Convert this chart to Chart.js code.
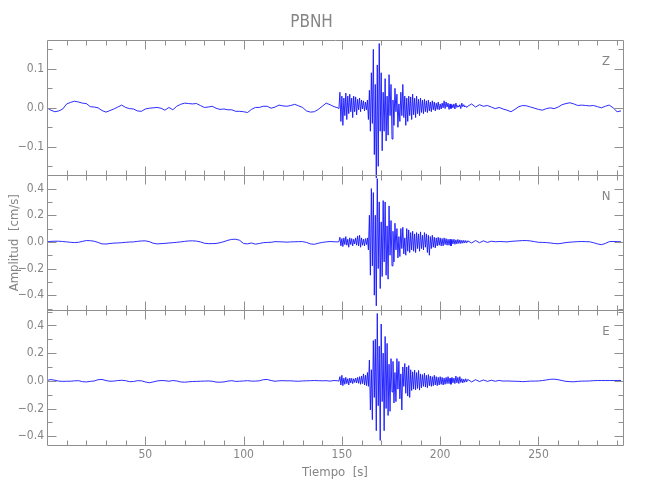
<!DOCTYPE html>
<html>
<head>
<meta charset="utf-8">
<script src="https://cdn.jsdelivr.net/npm/chart.js@4/dist/chart.umd.min.js"></script>
<style>
  html, body { margin: 0; padding: 0; background: #fff; }
  canvas { display: block; }
</style>
</head>
<body>
<canvas id="seismo" width="650" height="500"></canvas>
<script>
// PBNH velocity record, three components. Sampling: coarse before/after the event, fine during it.
const quietStart = 0, quietStep = 2;     // 0 .. 146 s
const burstStart = 148, burstStep = 0.5; // 148 .. 214 s
const codaStart = 216, codaStep = 2;     // 216 .. 292 s

const panelNames = ["Z", "N", "E"];
const xTicks = [50, 100, 150, 200, 250];
const zTicks = [-0.1, 0, 0.1];
const neTicks = [-0.4, -0.2, 0, 0.2, 0.4];

const zQuiet = [
  0.000, -0.006, -0.010, -0.008, -0.003, 0.010, 0.014, 0.017, 0.015, 0.012,
  0.011, 0.003, 0.002, 0.000, -0.007, -0.011, -0.007, -0.003, 0.002, 0.007,
  0.001, -0.002, -0.003, -0.008, -0.009, -0.003, -0.001, 0.000, 0.001, -0.001,
  -0.006, 0.001, -0.005, 0.004, 0.009, 0.012, 0.011, 0.010, 0.011, 0.006,
  0.001, 0.002, 0.004, -0.001, -0.004, -0.003, -0.005, -0.005, -0.009, -0.009,
  -0.010, -0.012, -0.004, 0.001, 0.001, 0.004, 0.004, -0.001, 0.002, 0.007,
  0.005, 0.004, 0.006, 0.009, 0.005, 0.001, -0.008, -0.011, -0.010, -0.004,
  0.004, 0.012, 0.008, 0.003
];
const zBurst = [
  0.000, -0.002, 0.040, -0.035, 0.030, -0.045, 0.025, -0.020, 0.038, -0.030,
  0.030, -0.015, 0.035, -0.010, 0.025, -0.025, 0.030, -0.010, 0.028, -0.018,
  0.022, -0.005, 0.025, -0.010, 0.020, -0.003, 0.018, -0.008, 0.015, -0.005,
  0.020, -0.030, 0.045, -0.060, 0.090, -0.040, 0.150, -0.120, 0.060, -0.180,
  0.110, -0.150, 0.165, -0.060, 0.090, -0.110, 0.040, -0.060, 0.075, -0.085,
  0.030, -0.070, 0.085, -0.020, 0.060, -0.080, 0.020, -0.045, 0.050, -0.010,
  0.035, -0.050, 0.010, -0.035, 0.040, -0.020, 0.060, -0.025, 0.030, -0.045,
  0.025, -0.035, 0.030, -0.020, 0.028, -0.030, 0.035, -0.018, 0.025, -0.025,
  0.030, -0.015, 0.022, -0.020, 0.025, -0.012, 0.020, -0.015, 0.022, -0.010,
  0.018, -0.012, 0.020, -0.008, 0.015, -0.010, 0.018, -0.005, 0.015, -0.008,
  0.012, -0.004, 0.015, -0.005, 0.010, -0.003, 0.012, 0.000, 0.018, -0.002,
  0.015, 0.002, 0.012, -0.004, 0.010, -0.002, 0.008, 0.000, 0.010, -0.003,
  0.012, 0.001, 0.006, 0.002, 0.008, -0.002, 0.012, 0.003, 0.008, 0.002,
  0.005, 0.001, 0.004
];
const zCoda = [
  0.010, 0.002, 0.008, 0.004, 0.006, 0.002, -0.002, 0.001, -0.003, -0.006,
  -0.010, -0.004, 0.003, 0.006, 0.005, 0.002, -0.001, -0.004, -0.006, -0.002,
  0.000, -0.002, 0.002, 0.008, 0.011, 0.013, 0.010, 0.006, 0.007, 0.006,
  0.005, 0.006, 0.003, 0.000, 0.004, 0.007, 0.000, -0.010, -0.008
];

const nQuiet = [
  0.000, 0.004, 0.005, 0.005, 0.003, 0.000, -0.003, -0.005, -0.003, 0.004,
  0.010, 0.009, 0.005, -0.004, -0.015, -0.016, -0.012, -0.009, -0.008, -0.006,
  -0.003, -0.001, 0.000, 0.004, 0.007, 0.008, 0.002, -0.010, -0.015, -0.013,
  -0.011, -0.008, -0.006, -0.003, 0.000, 0.004, 0.007, 0.008, 0.006, 0.000,
  -0.010, -0.013, -0.013, -0.012, -0.006, 0.002, 0.012, 0.019, 0.020, 0.012,
  -0.012, -0.015, -0.008, -0.017, -0.012, -0.006, -0.004, -0.003, 0.002, 0.001,
  0.000, -0.002, 0.000, 0.001, 0.002, 0.002, -0.004, -0.015, -0.018, -0.010,
  -0.004, 0.000, 0.003, 0.001
];
const nBurst = [
  0.000, 0.002, 0.035, -0.030, 0.025, -0.035, 0.030, -0.020, 0.040, -0.025,
  0.020, -0.040, 0.030, -0.020, 0.025, -0.030, 0.020, -0.015, 0.030, -0.025,
  0.045, -0.030, 0.050, -0.040, 0.030, -0.025, 0.020, -0.030, 0.025, -0.020,
  0.030, -0.060, 0.200, -0.250, 0.400, -0.180, 0.370, -0.400, 0.200, -0.480,
  0.475, -0.200, 0.300, -0.350, 0.150, -0.260, 0.310, -0.150, 0.300, -0.250,
  0.120, -0.280, 0.270, -0.100, 0.160, -0.180, 0.080, -0.150, 0.140, -0.060,
  0.100, -0.120, 0.040, -0.110, 0.100, -0.050, 0.110, -0.090, 0.030, -0.100,
  0.100, -0.070, 0.090, -0.080, 0.070, -0.060, 0.080, -0.070, 0.060, -0.080,
  0.070, -0.050, 0.060, -0.070, 0.075, -0.050, 0.050, -0.060, 0.070, -0.040,
  0.060, -0.080, 0.050, -0.100, 0.040, -0.050, 0.050, -0.040, 0.035, -0.045,
  0.030, -0.030, 0.035, -0.025, 0.030, -0.030, 0.025, -0.030, 0.030, -0.020,
  0.025, -0.025, 0.020, -0.025, 0.020, -0.030, 0.018, -0.015, 0.020, -0.018,
  0.015, -0.015, 0.018, -0.012, 0.015, -0.012, 0.012, -0.010, 0.012, -0.008,
  0.010, -0.008, 0.008
];
const nCoda = [
  -0.008, 0.010, -0.006, 0.008, -0.004, 0.005, 0.001, 0.003, 0.002, 0.000,
  0.004, 0.006, 0.008, 0.010, 0.010, 0.007, 0.002, -0.003, -0.004, -0.005,
  -0.008, -0.012, -0.014, -0.010, -0.005, -0.002, 0.000, 0.002, 0.003, 0.002,
  0.001, -0.006, -0.015, -0.021, -0.012, 0.002, 0.003, 0.002, 0.001
];

const eQuiet = [
  0.003, 0.009, 0.004, -0.002, -0.004, -0.003, -0.003, 0.000, 0.001, -0.006,
  -0.008, -0.004, -0.001, 0.008, 0.010, 0.002, -0.003, -0.002, 0.002, 0.004,
  0.001, -0.006, -0.005, 0.001, 0.000, -0.008, -0.014, -0.008, -0.001, 0.002,
  0.001, -0.003, 0.002, -0.001, -0.008, -0.010, -0.007, -0.005, -0.004, -0.003,
  -0.002, -0.001, -0.003, -0.009, -0.010, -0.008, -0.002, 0.001, -0.004, -0.003,
  -0.001, 0.001, -0.002, -0.002, 0.000, 0.008, 0.010, 0.002, -0.003, 0.000,
  0.001, 0.000, 0.000, -0.002, -0.003, -0.001, 0.000, 0.001, 0.002, 0.001,
  0.000, 0.001, -0.002, 0.002
];
const eBurst = [
  0.000, -0.002, 0.030, -0.030, 0.040, -0.035, 0.020, -0.025, 0.025, -0.020,
  0.015, -0.030, 0.020, -0.015, 0.018, -0.020, 0.015, -0.012, 0.020, -0.015,
  0.025, -0.018, 0.030, -0.025, 0.035, -0.020, 0.050, -0.030, 0.040, -0.035,
  0.060, -0.040, 0.150, -0.210, 0.080, -0.280, 0.290, -0.120, 0.300, -0.360,
  0.486, -0.180, 0.250, -0.430, 0.410, -0.150, 0.200, -0.360, 0.320, -0.200,
  0.270, -0.250, 0.120, -0.220, 0.160, -0.080, 0.140, -0.160, 0.060, -0.150,
  0.160, -0.060, 0.140, -0.130, 0.050, -0.210, 0.100, -0.040, 0.125, -0.090,
  0.100, -0.110, 0.110, -0.120, 0.080, -0.070, 0.065, -0.060, 0.077, -0.065,
  0.060, -0.055, 0.075, -0.067, 0.050, -0.050, 0.045, -0.040, 0.055, -0.045,
  0.040, -0.050, 0.045, -0.035, 0.035, -0.040, 0.030, -0.035, 0.040, -0.030,
  0.030, -0.035, 0.025, -0.030, 0.030, -0.025, 0.025, -0.030, 0.020, -0.025,
  0.025, -0.020, 0.030, -0.020, 0.020, -0.025, 0.025, -0.015, 0.020, -0.020,
  0.035, -0.015, 0.025, -0.020, 0.030, -0.012, 0.015, -0.015, 0.012, -0.010,
  0.015, -0.008, 0.010
];
const eCoda = [
  -0.008, 0.008, -0.005, 0.006, -0.004, 0.004, -0.003, 0.003, -0.002, -0.001,
  -0.002, -0.003, -0.004, -0.006, -0.004, -0.002, -0.002, -0.001, 0.002, 0.006,
  0.011, 0.012, 0.008, 0.002, -0.004, -0.006, -0.007, -0.004, -0.002, -0.002,
  -0.001, 0.001, 0.002, 0.002, 0.002, 0.002, 0.002, 0.002, 0.002
];

const FONT = "'Liberation Sans Narrow', 'DejaVu Sans Condensed', 'Liberation Sans', sans-serif";
const GREY = "#858585";
const FRAME = "#8f8f8f";
const TRACE = "rgb(20, 20, 255)";

function toPoints(quiet, burst, coda) {
  return [
    ...quiet.map((v, i) => ({ x: quietStart + i * quietStep, y: v })),
    ...burst.map((v, i) => ({ x: burstStart + i * burstStep, y: v })),
    ...coda.map((v, i) => ({ x: codaStart + i * codaStep, y: v })),
  ];
}

function fmt(v) {
  if (Math.abs(v) < 1e-9) return "0.0";
  return (v < 0 ? "\u2212" : "") + Math.abs(v).toFixed(1);
}

function yAxis(min, max, ticks, title) {
  return {
    type: "linear",
    position: "left",
    stack: "panels",
    stackWeight: 1,
    offset: false,
    min: min,
    max: max,
    grid: { display: false, drawTicks: false },
    border: { display: false },
    afterBuildTicks: (s) => { s.ticks = ticks.map((v) => ({ value: v })); },
    afterFit: (s) => { s.width = 47; },
    ticks: {
      color: GREY,
      padding: 3,
      font: { family: FONT, size: 12 },
      callback: (v) => fmt(v),
    },
    title: {
      display: !!title,
      text: title || "",
      color: GREY,
      font: { family: FONT, size: 13 },
      padding: { top: 7, bottom: 0 },
    },
  };
}

// frame, inward ticks on all four sides, and the component letter of each panel
const panelFrames = {
  id: "panelFrames",
  afterDraw(chart) {
    const { ctx, scales } = chart;
    const x = scales.x;
    const ids = ["yZ", "yN", "yE"];
    const minorY = [0.05, 0.1, 0.1];
    ctx.save();
    ctx.strokeStyle = FRAME;
    ctx.lineWidth = 1;
    ids.forEach((id, k) => {
      const y = scales[id];
      const L = Math.round(x.left) + 0.5, R = Math.round(x.right) + 0.5;
      const T = Math.round(y.top) + 0.5, B = Math.round(y.bottom) + 0.5;
      ctx.beginPath();
      ctx.rect(L, T, R - L, B - T);
      // x ticks every 10 s, long every 50 s
      for (let t = 10; t < x.max; t += 10) {
        const px = Math.round(x.getPixelForValue(t)) + 0.5;
        const len = t % 50 === 0 ? 9 : 5;
        ctx.moveTo(px, T); ctx.lineTo(px, T + len);
        ctx.moveTo(px, B); ctx.lineTo(px, B - len);
      }
      // y ticks, long at labelled values
      const step = minorY[k];
      const major = k === 0 ? 0.1 : 0.2;
      for (let i = Math.ceil(y.min / step); i <= Math.floor(y.max / step); i++) {
        const v = i * step;
        const py = Math.round(y.getPixelForValue(v)) + 0.5;
        const isMajor = Math.abs(v / major - Math.round(v / major)) < 1e-6;
        const len = isMajor ? 9 : 5;
        ctx.moveTo(L, py); ctx.lineTo(L + len, py);
        ctx.moveTo(R, py); ctx.lineTo(R - len, py);
      }
      ctx.stroke();
      ctx.fillStyle = GREY;
      ctx.font = "13px " + FONT;
      ctx.textAlign = "center";
      ctx.textBaseline = "middle";
      ctx.fillText(panelNames[k], 606, y.top + 21);
    });
    ctx.restore();
  },
};

const traceStyle = {
  borderColor: TRACE,
  borderWidth: 0.9,
  pointRadius: 0,
  tension: 0,
  fill: false,
  clip: false,
};

new Chart(document.getElementById("seismo").getContext("2d"), {
  type: "line",
  data: {
    datasets: [
      { label: panelNames[0], data: toPoints(zQuiet, zBurst, zCoda), yAxisID: "yZ", ...traceStyle },
      { label: panelNames[1], data: toPoints(nQuiet, nBurst, nCoda), yAxisID: "yN", ...traceStyle },
      { label: panelNames[2], data: toPoints(eQuiet, eBurst, eCoda), yAxisID: "yE", ...traceStyle },
    ],
  },
  options: {
    responsive: false,
    animation: false,
    layout: { padding: { left: 0, right: 27, top: 0, bottom: 0 } },
    scales: {
      x: {
        type: "linear",
        position: "bottom",
        min: 0,
        max: 293,
        grid: { display: false, drawTicks: false },
        border: { display: false },
        afterBuildTicks: (s) => { s.ticks = xTicks.map((v) => ({ value: v })); },
        afterFit: (s) => { s.height = 55; },
        ticks: {
          color: GREY,
          padding: 3,
          maxRotation: 0,
          font: { family: FONT, size: 12 },
          callback: (v) => String(v),
        },
        title: {
          display: true,
          text: "Tiempo  [s]",
          color: GREY,
          font: { family: FONT, size: 13 },
          padding: { top: 0, bottom: 20 },
        },
      },
      yE: yAxis(-0.463, 0.51, neTicks),
      yN: yAxis(-0.512, 0.50, neTicks, "Amplitud  [cm/s]"),
      yZ: yAxis(-0.173, 0.173, zTicks),
    },
    plugins: {
      legend: { display: false },
      tooltip: { enabled: false },
      title: {
        display: true,
        text: "PBNH",
        color: GREY,
        font: { family: FONT, size: 17, weight: "normal" },
        padding: { top: 12, bottom: 8 },
      },
    },
  },
  plugins: [panelFrames],
});
</script>
</body>
</html>
